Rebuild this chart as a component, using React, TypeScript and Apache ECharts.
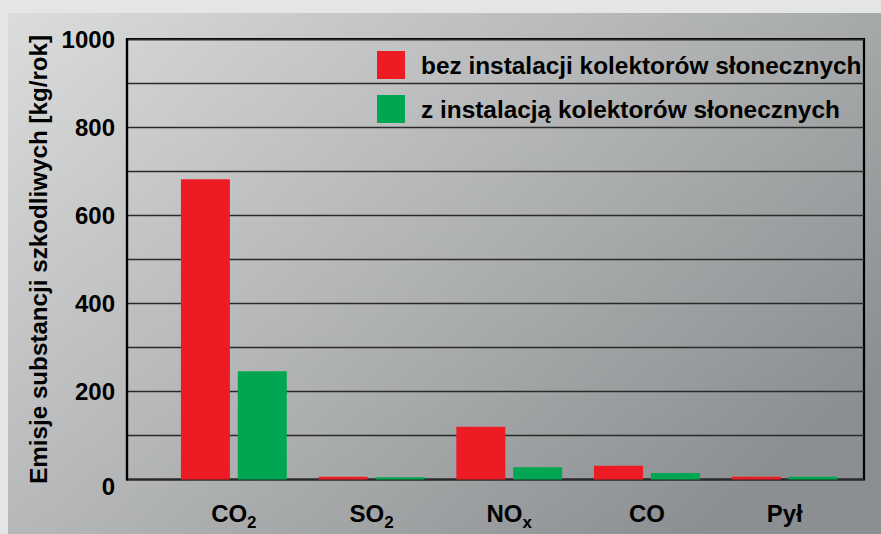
import React, { useEffect, useRef } from "react";
import * as echarts from "echarts";

const categories = ["CO2", "SO2", "NOx", "CO", "Pył"];
const categoryLabels = ["{a|CO}{s|2}", "{a|SO}{s|2}", "{a|NO}{s|x}", "{a|CO}", "{a|Pył}"];
const seriesNames = [
  "bez instalacji kolektorów słonecznych",
  "z instalacją kolektorów słonecznych",
];
const withoutCollectors = [682, 6, 120, 31, 6];
const withCollectors = [246, 5, 28, 15, 6];
const yTicks = [0, 200, 400, 600, 800, 1000];
const yAxisTitle = "Emisje substancji szkodliwych [kg/rok]";

const FONT = "'Liberation Sans', Arial, sans-serif";
const RED = "#ed1c24";
const GREEN = "#00a651";

export default function App() {
  const ref = useRef<HTMLDivElement>(null);
  useEffect(() => {
    if (!ref.current) return;
    const chart = echarts.init(ref.current, undefined, { renderer: "svg" });
    const top = 39.2;
    const bottom = 534 - 479.5;
    chart.setOption({
      animation: false,
      backgroundColor: "#e4e6e5",
      textStyle: { fontFamily: FONT },
      graphic: [
        {
          type: "rect",
          z: -10,
          silent: true,
          shape: { x: 8, y: 13, width: 873, height: 521 },
          style: {
            fill: new echarts.graphic.LinearGradient(0, 0, 1, 0.7, [
              { offset: 0, color: "#dbdcdc" },
              { offset: 1, color: "#8c8f91" },
            ]),
          },
        },
      ],
      legend: {
        orient: "vertical",
        left: 377,
        top: 45.5,
        padding: 0,
        itemWidth: 28,
        itemHeight: 28,
        itemGap: 5,
        icon: "rect",
        data: seriesNames,
        textStyle: {
          fontFamily: FONT,
          fontSize: 24.4,
          fontWeight: "bold",
          color: "#000",
          lineHeight: 28,
          padding: [11, 0, 0, 11],
        },
      },
      grid: [
        {
          left: 127,
          right: 17,
          top,
          bottom,
          show: true,
          borderColor: "#000",
          borderWidth: 2.2,
          backgroundColor: "transparent",
        },
        { left: 165, right: 27.5, top, bottom },
      ],
      xAxis: [
        { type: "value", gridIndex: 0, show: false, min: 0, max: 1 },
        {
          type: "category",
          gridIndex: 1,
          data: categories,
          axisLine: { show: false },
          axisTick: { show: false },
          axisLabel: {
            margin: 17,
            formatter: (_v: string, i: number) => categoryLabels[i],
            rich: {
              a: {
                fontFamily: FONT,
                fontSize: 24,
                fontWeight: "bold",
                color: "#000",
                lineHeight: 34,
                verticalAlign: "middle",
              },
              s: {
                fontFamily: FONT,
                fontSize: 17,
                fontWeight: "bold",
                color: "#000",
                lineHeight: 20,
                verticalAlign: "bottom",
              },
            },
          },
        },
      ],
      yAxis: [
        {
          type: "value",
          gridIndex: 0,
          min: 0,
          max: 1000,
          interval: 100,
          name: yAxisTitle,
          nameLocation: "middle",
          nameGap: 59,
          nameTextStyle: {
            fontFamily: FONT,
            fontSize: 24.2,
            fontWeight: "bold",
            color: "#000",
          },
          axisLine: { show: true, lineStyle: { color: "#000", width: 2.2 } },
          axisTick: { show: false },
          splitLine: { show: true, lineStyle: { color: "#2a2a2a", width: 1.4 } },
          axisLabel: {
            margin: 12,
            fontFamily: FONT,
            fontSize: 24,
            fontWeight: "bold",
            color: "#000",
            formatter: (v: number) =>
              yTicks.includes(v) ? (v === 0 ? "{z|0}" : String(v)) : "",
            rich: {
              z: {
                fontFamily: FONT,
                fontSize: 24,
                fontWeight: "bold",
                color: "#000",
                padding: [14, 0, 0, 0],
              },
            },
          },
        },
        { type: "value", gridIndex: 1, min: 0, max: 1000, show: false, splitLine: { show: false } },
      ],
      series: [
        {
          name: seriesNames[0],
          type: "bar",
          xAxisIndex: 1,
          yAxisIndex: 1,
          data: withoutCollectors,
          barWidth: 49,
          barGap: "16%",
          itemStyle: { color: RED },
        },
        {
          name: seriesNames[1],
          type: "bar",
          xAxisIndex: 1,
          yAxisIndex: 1,
          data: withCollectors,
          barWidth: 49,
          barGap: "16%",
          itemStyle: { color: GREEN },
        },
      ],
    });
    return () => chart.dispose();
  }, []);
  return (
    <div style={{ position: "fixed", left: 0, top: 0, width: 881, height: 534 }}>
      <div ref={ref} style={{ width: 881, height: 534 }} />
    </div>
  );
}
